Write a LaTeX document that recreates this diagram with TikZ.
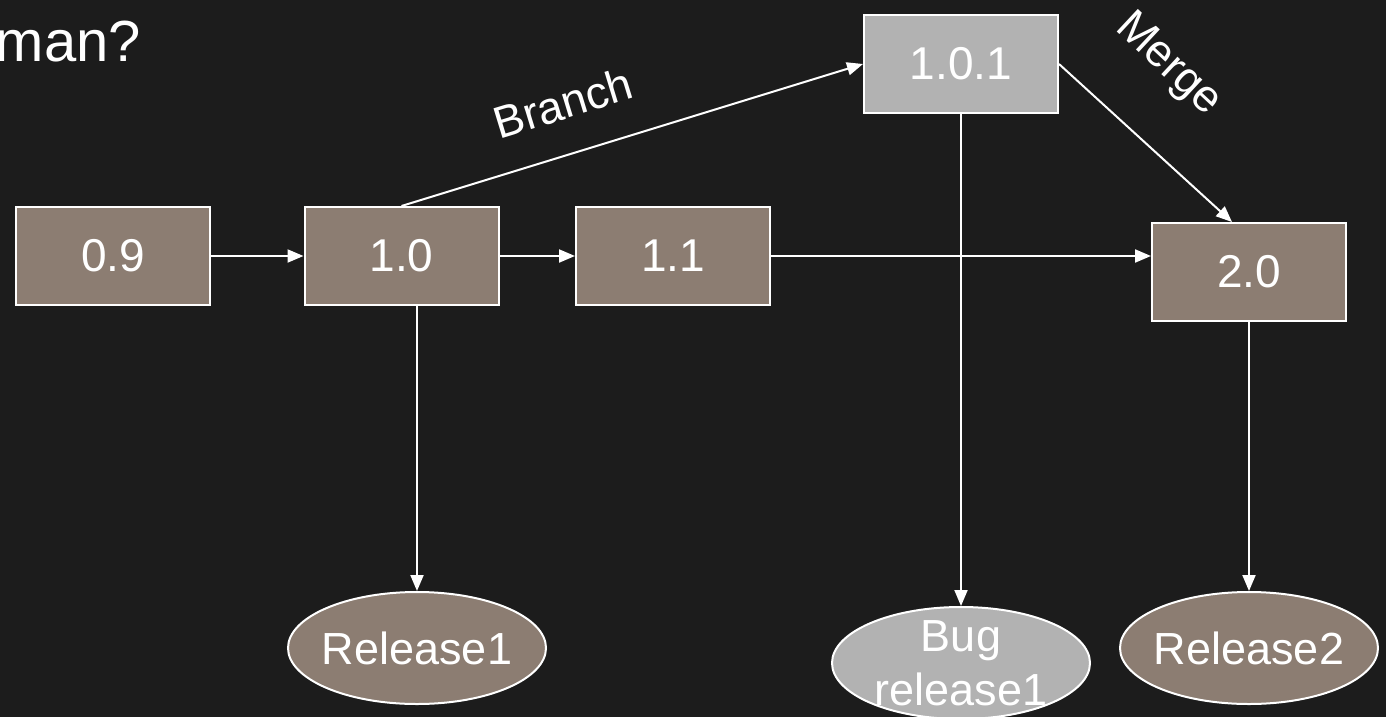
\documentclass[tikz,border=0pt]{standalone}
\usepackage{fontspec}
\setmainfont{Liberation Sans}
\usetikzlibrary{arrows.meta,shapes.geometric}
\definecolor{bg}{HTML}{1C1C1C}
\definecolor{taupe}{HTML}{8C7D72}
\definecolor{silver}{HTML}{B2B2B2}
\begin{document}
\begin{tikzpicture}[x=1pt, y=-1pt,
  ver/.style={rectangle, draw=white, line width=2pt, fill=taupe,
    minimum width=194pt, minimum height=98pt, inner sep=0pt,
    text=white, font=\fontsize{46}{52}\selectfont},
  fixver/.style={ver, fill=silver},
  rel/.style={ellipse, draw=white, line width=2pt, fill=taupe,
    minimum width=258pt, minimum height=112pt, inner sep=-30pt,
    text=white, align=center, font=\fontsize{45}{54}\selectfont},
  fixrel/.style={rel, fill=silver},
  link/.style={draw=white, line width=2pt, -{Triangle[length=16pt,width=13pt]}},
  lbl/.style={text=white, inner sep=0pt, font=\fontsize{45}{50}\selectfont}]

  % canvas
  \path[use as bounding box, fill=bg] (0,0) rectangle (1386,717);

  % title fragment
  \node[lbl, font=\fontsize{58}{64}\selectfont, anchor=base east] (title) at (141,62) {man?};

  % versions
  \node[ver] (n09) at (113,256) {0.9};
  \node[ver] (n10) at (401.5,256) {1.0};
  \node[ver] (n11) at (673,256) {1.1};
  \node[fixver] (n101) at (961,64) {1.0.1};
  \node[ver] (n20) at (1249,272) {2.0};

  % releases
  \node[rel] (r1) at (417,648) {Release1};
  \node[fixrel] (bug) at (961,663) {Bug\\release1};
  \node[rel] (r2) at (1249,648) {Release2};

  % history
  \draw[link] (n09.east) -- (n10.west);
  \draw[link] (n10.east) -- (n11.west);
  \draw[link] (n11.east) -- (n11.east -| n20.west);
  \draw[link] (n10.north) -- (n101.west);
  \draw[link] (n101.east) -- ([xshift=-17pt]n20.north);
  \draw[link] (n10.south -| r1.north) -- (r1.north);
  \draw[link] (n101.south) -- (bug.north);
  \draw[link] (n20.south) -- (r2.north);

  % edge labels
  \node[lbl, rotate=17] (lbranch) at (563,103) {Branch};
  \node[lbl, rotate=-43] (lmerge) at (1168,65) {Merge};
\end{tikzpicture}
\end{document}
